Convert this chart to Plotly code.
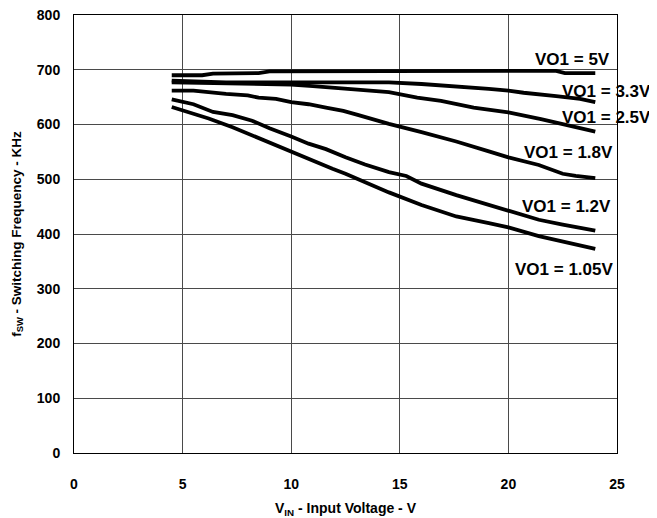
import plotly.graph_objects as go

# ---- data ----
x_5v = [4.5, 5.9, 6.4, 8.5, 9.0, 14.0, 22.2, 22.6, 24.0]
y_5v = [690, 690, 693, 694, 697, 698, 698, 694, 694]

x_33v = [4.5, 7.0, 10.0, 14.5, 16.0, 17.6, 19.1, 20.0, 20.7, 22.2, 23.3, 24.0]
y_33v = [680, 677, 677, 677, 674, 670, 665, 662, 658, 652, 647, 641]

x_25v = [4.5, 6.0, 8.0, 10.0, 11.0, 12.5, 14.5, 15.8, 16.9, 18.4, 20.0, 21.5, 22.5, 24.0]
y_25v = [677, 676, 674, 673, 670, 665, 659, 649, 643, 631, 622, 610, 601, 587]

x_18v = [4.5, 5.5, 7.0, 8.0, 8.5, 9.3, 10.0, 10.8, 11.6, 12.4, 13.1, 14.5, 16.0, 17.6, 19.1, 20.0, 21.4, 22.5, 23.1, 24.0]
y_18v = [662, 662, 656, 653, 649, 647, 641, 637, 631, 625, 617, 601, 586, 569, 551, 540, 526, 510, 506, 502]

x_12v = [4.5, 5.5, 6.4, 7.3, 8.2, 9.0, 10.0, 10.8, 11.6, 12.5, 13.4, 14.5, 15.3, 16.0, 17.6, 19.1, 20.0, 21.4, 22.5, 24.0]
y_12v = [646, 637, 623, 617, 607, 593, 578, 565, 555, 540, 527, 513, 506, 492, 471, 453, 441, 426, 417, 406]

x_105v = [4.5, 5.5, 6.2, 7.3, 8.5, 10.0, 11.3, 11.9, 12.5, 13.4, 14.5, 16.0, 17.6, 19.1, 20.0, 21.4, 22.5, 24.0]
y_105v = [632, 620, 611, 595, 575, 549, 528, 519, 510, 495, 476, 453, 432, 420, 412, 396, 386, 373]

series_names = ["VO1 = 5V", "VO1 = 3.3V", "VO1 = 2.5V", "VO1 = 1.8V", "VO1 = 1.2V", "VO1 = 1.05V"]
series_x = [x_5v, x_33v, x_25v, x_18v, x_12v, x_105v]
series_y = [y_5v, y_33v, y_25v, y_18v, y_12v, y_105v]

x_ticks = [0, 5, 10, 15, 20, 25]
y_ticks = [0, 100, 200, 300, 400, 500, 600, 700, 800]

# label placement (paper coords)
label_pos = [
    (0.991, 0.8995),
    (1.066, 0.826),
    (1.066, 0.765),
    (0.996, 0.685),
    (0.993, 0.562),
    (0.996, 0.418),
]

FONT = "Liberation Sans, Arial, Helvetica, sans-serif"

fig = go.Figure()
for name, xs, ys in zip(series_names, series_x, series_y):
    fig.add_trace(go.Scatter(x=xs, y=ys, mode="lines", name=name,
                             line=dict(color="black", width=3.8, shape="linear"),
                             showlegend=False))

for name, (px, py) in zip(series_names, label_pos):
    fig.add_annotation(x=px, y=py, xref="paper", yref="paper", text=name,
                       showarrow=False, xanchor="right", yanchor="middle",
                       font=dict(family=FONT, size=17, color="black", weight="bold"))

fig.update_layout(
    template="none",
    width=649, height=510,
    margin=dict(l=66, r=40, t=7, b=65, pad=0),
    paper_bgcolor="white", plot_bgcolor="white",
    font=dict(family=FONT, color="black", weight="bold"),
    xaxis=dict(range=[0, 25], tickvals=x_ticks, ticktext=[str(v) for v in x_ticks],
               automargin=False, ticklabeloverflow="allow",
               showgrid=True, gridcolor="#4a4a4a", gridwidth=1,
               showline=True, linecolor="black", linewidth=1, mirror=True,
               ticks="outside", ticklen=18, tickcolor="rgba(255,255,255,0)",
               tickfont=dict(family=FONT, size=14, color="black", weight="bold"),
               zeroline=False,
               title=dict(text="V<sub>IN</sub> - Input Voltage - V", standoff=13,
                          font=dict(family=FONT, size=14, color="black", weight="bold"))),
    yaxis=dict(range=[0, 800], tickvals=y_ticks, ticktext=[str(v) for v in y_ticks],
               automargin=False, ticklabeloverflow="allow",
               showgrid=True, gridcolor="#4a4a4a", gridwidth=1,
               showline=True, linecolor="black", linewidth=1, mirror=True,
               ticks="outside", ticklen=10, tickcolor="rgba(255,255,255,0)",
               tickfont=dict(family=FONT, size=14, color="black", weight="bold"),
               zeroline=False,
               title=dict(text="f<sub>SW</sub> - Switching Frequency - KHz", standoff=12,
                          font=dict(family=FONT, size=13.5, color="black", weight="bold"))),
)

fig.write_html("out.html")
